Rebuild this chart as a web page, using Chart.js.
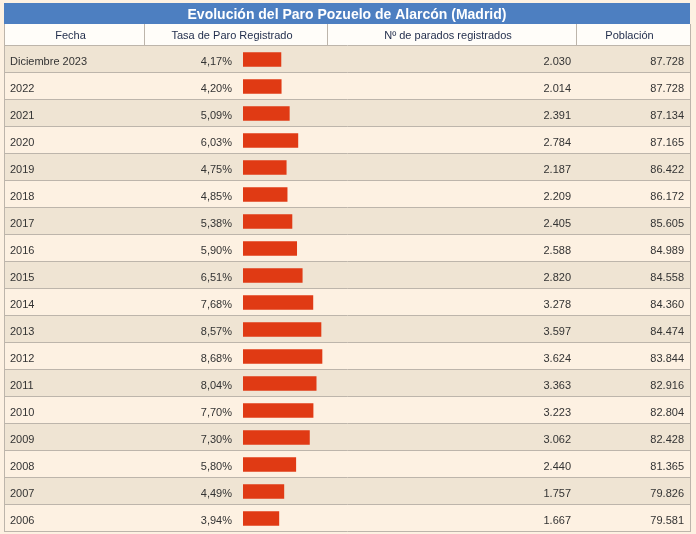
<!DOCTYPE html>
<html lang="es">
<head>
<meta charset="utf-8">
<title>Evolución del Paro Pozuelo de Alarcón (Madrid)</title>
<script src="https://cdn.jsdelivr.net/npm/chart.js@4/dist/chart.umd.min.js"></script>
<style>
    html, body { margin: 0; padding: 0; background: #fdf1e2; }
    #wrap { width: 696px; height: 534px; }
</style>
</head>
<body>
<div id="wrap"><canvas id="paro" width="696" height="534"></canvas></div>
<script>
// Datos de la tabla
const titulo = 'Evolución del Paro Pozuelo de Alarcón (Madrid)';
const cabeceras = ['Fecha', 'Tasa de Paro Registrado', 'Nº de parados registrados', 'Población'];
const fechas = ['Diciembre 2023', '2022', '2021', '2020', '2019', '2018', '2017', '2016', '2015',
    '2014', '2013', '2012', '2011', '2010', '2009', '2008', '2007', '2006'];
const tasaParo = [4.17, 4.20, 5.09, 6.03, 4.75, 4.85, 5.38, 5.90, 6.51,
    7.68, 8.57, 8.68, 8.04, 7.70, 7.30, 5.80, 4.49, 3.94];
const parados = [2030, 2014, 2391, 2784, 2187, 2209, 2405, 2588, 2820,
    3278, 3597, 3624, 3363, 3223, 3062, 2440, 1757, 1667];
const poblacion = [87728, 87728, 87134, 87165, 86422, 86172, 85605, 84989, 84558,
    84360, 84474, 83844, 82916, 82804, 82428, 81365, 79826, 79581];

// Colores
const colores = {
    fondo: '#fdf1e2',
    titulo: '#4d7fc1',
    cabecera: '#fffdf9',
    filaImpar: '#efe4d3',
    filaPar: '#fdf1e2',
    borde: '#bdb5ab',
    barra: '#e03a14',
    textoCab: '#1f2b4a',
    texto: '#333333'
};

// Columnas: bordes x de la tabla
const cols = { left: 4, c1: 144, c2: 327, c3: 576, right: 690 };
const FONT = '"Liberation Sans", Arial, sans-serif';

// Formato español: coma decimal y punto de miles
const fmtMiles = n => String(n).replace(/\B(?=(\d{3})+(?!\d))/g, '.');
const fmtPct = v => v.toFixed(2).replace('.', ',') + '%';

const tablaPlugin = {
    id: 'tabla',
    beforeDraw(chart) {
        const ctx = chart.ctx;
        const y = chart.scales.y;
        const h = (y.bottom - y.top) / fechas.length;
        const W = chart.width;

        ctx.save();
        ctx.fillStyle = colores.fondo;
        ctx.fillRect(0, 0, W, chart.height);

        // Barra de título
        ctx.fillStyle = colores.titulo;
        ctx.fillRect(cols.left, 3, cols.right - cols.left, 21);
        ctx.fillStyle = '#ffffff';
        ctx.font = 'bold 14px ' + FONT;
        ctx.textAlign = 'center';
        ctx.textBaseline = 'alphabetic';
        ctx.fillText(titulo, (cols.left + cols.right) / 2, 19);

        // Cabecera
        ctx.fillStyle = colores.cabecera;
        ctx.fillRect(cols.left, 24, cols.right - cols.left, y.top - 24);
        ctx.strokeStyle = colores.borde;
        ctx.lineWidth = 1;
        ctx.beginPath();
        [cols.c1, cols.c2, cols.c3].forEach(x => {
            ctx.moveTo(x + 0.5, 24);
            ctx.lineTo(x + 0.5, y.top);
        });
        ctx.stroke();

        ctx.fillStyle = colores.textoCab;
        ctx.font = '11px ' + FONT;
        const centros = [
            (cols.left + cols.c1) / 2, (cols.c1 + cols.c2) / 2,
            (cols.c2 + cols.c3) / 2, (cols.c3 + cols.right) / 2
        ];
        cabeceras.forEach((t, i) => ctx.fillText(t, centros[i] - 3.5, 39));

        // Filas
        fechas.forEach((f, i) => {
            const top = y.getPixelForValue(i) - h / 2;
            ctx.fillStyle = i % 2 === 0 ? colores.filaImpar : colores.filaPar;
            ctx.fillRect(cols.left, top, cols.right - cols.left, h);
        });

        // Líneas horizontales
        ctx.strokeStyle = colores.borde;
        ctx.beginPath();
        for (let i = 0; i <= fechas.length; i++) {
            const ly = Math.round(y.top + i * h) - 0.5;
            ctx.moveTo(cols.left, ly);
            ctx.lineTo(cols.right + 1, ly);
        }
        // Bordes exteriores
        ctx.moveTo(cols.left + 0.5, 24);
        ctx.lineTo(cols.left + 0.5, y.bottom);
        ctx.moveTo(cols.right + 0.5, 24);
        ctx.lineTo(cols.right + 0.5, y.bottom);
        ctx.stroke();

        // Textos de las filas
        ctx.fillStyle = colores.texto;
        ctx.font = '11px ' + FONT;
        fechas.forEach((f, i) => {
            const by = y.getPixelForValue(i) + 5;
            ctx.textAlign = 'left';
            ctx.fillText(f, 10, by);
            ctx.textAlign = 'right';
            ctx.fillText(fmtPct(tasaParo[i]), 232, by);
            ctx.fillText(fmtMiles(parados[i]), 571, by);
            ctx.fillText(fmtMiles(poblacion[i]), 684, by);
        });
        ctx.restore();
    }
};

new Chart(document.getElementById('paro'), {
    type: 'bar',
    data: {
        labels: fechas,
        datasets: [{
            label: 'Tasa de Paro Registrado',
            data: tasaParo,
            backgroundColor: colores.barra,
            borderWidth: 0,
            barThickness: 14
        }]
    },
    options: {
        indexAxis: 'y',
        responsive: false,
        animation: false,
        layout: { padding: { left: 243, right: 362, top: 46, bottom: 2 } },
        scales: {
            x: { display: false, min: 0, max: 10 },
            y: { display: false }
        },
        plugins: {
            legend: { display: false },
            tooltip: { enabled: false }
        }
    },
    plugins: [tablaPlugin]
});
</script>
</body>
</html>
